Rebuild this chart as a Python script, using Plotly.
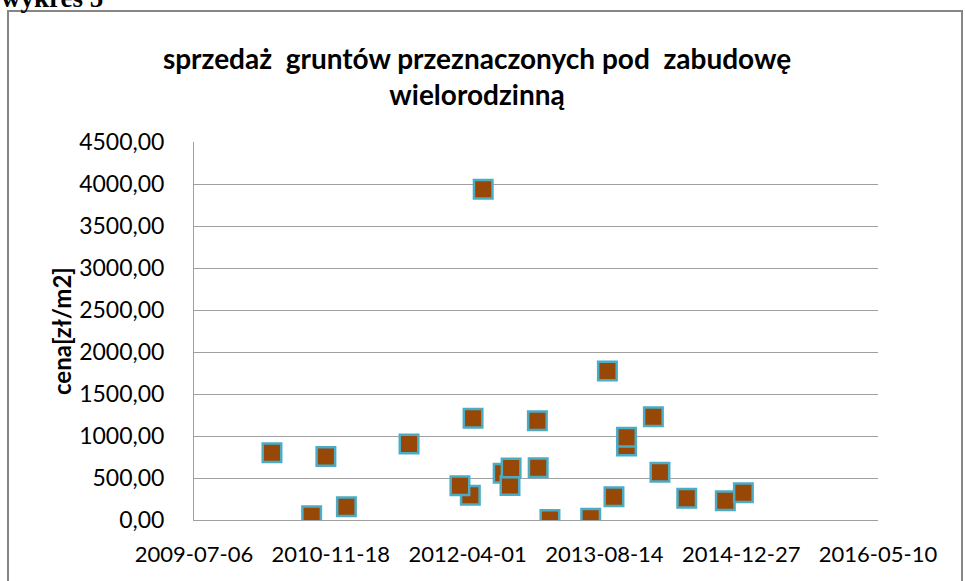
import plotly.graph_objects as go

# ---- data ----
sale_dates = [
    "2010-04-17", "2010-09-09", "2010-10-31", "2011-01-14", "2011-08-31",
    "2012-04-11", "2012-03-04", "2012-04-21", "2012-05-28", "2012-08-09",
    "2012-09-03", "2012-09-07", "2012-12-12", "2012-12-15", "2013-01-27",
    "2013-06-25", "2013-08-25", "2013-09-18", "2013-11-03", "2013-11-03",
    "2014-02-09", "2014-03-05", "2014-06-11", "2014-10-30", "2015-01-04",
]
prices = [
    800, 50, 755, 158, 905,
    294, 408, 1210, 3937, 556,
    410, 620, 1182, 623, 5,
    20, 1774, 278, 880, 984,
    1230, 568, 258, 230, 325,
]
y_tick_values = [0, 500, 1000, 1500, 2000, 2500, 3000, 3500, 4000, 4500]
y_tick_labels = ["0,00", "500,00", "1000,00", "1500,00", "2000,00",
                 "2500,00", "3000,00", "3500,00", "4000,00", "4500,00"]
x_tick_dates = ["2009-07-06", "2010-11-18", "2012-04-01",
                "2013-08-14", "2014-12-27", "2016-05-10"]

title_text = "sprzedaż\u00a0 gruntów przeznaczonych pod\u00a0 zabudowę<br>wielorodzinną"
y_title = "cena[zł/m2]"
corner_text = "wykres 5"

# ---- layout geometry (pixels) ----
W, H = 965, 581
L, R, T, B = 194, 878, 142, 520
PW, PH = R - L, B - T


def px_x(p):
    return (p - L) / PW


def px_y(p):
    return (B - p) / PH


fig = go.Figure(
    go.Scatter(
        x=sale_dates,
        y=prices,
        mode="markers",
        marker=dict(symbol="square", size=18.5, color="#974706",
                    line=dict(color="#4BACC6", width=2.5)),
        hoverinfo="x+y",
    )
)

fig.update_layout(
    width=W, height=H, autosize=False,
    margin=dict(l=L, r=W - R, t=T, b=H - B),
    paper_bgcolor="white", plot_bgcolor="white",
    showlegend=False,
    font=dict(family="Lato, 'Open Sans', sans-serif", color="black"),
    title=dict(text=title_text, x=477 / W, xanchor="center",
               yref="container", y=1 - 69 / H, yanchor="top",
               font=dict(family="Lato", size=28, color="black", weight="bold")),
)

fig.update_xaxes(
    type="date",
    range=["2009-07-06", "2016-05-10 00:00:01"],
    tickmode="array", tickvals=x_tick_dates, ticktext=x_tick_dates,
    showgrid=False, zeroline=False,
    showline=True, linecolor="#A0A0A0", linewidth=1,
    ticks="", ticklabelstandoff=15,
    tickfont=dict(family="Lato", size=22, color="black"),
)
fig.update_yaxes(
    range=[0, 4500],
    tickmode="array", tickvals=y_tick_values, ticktext=y_tick_labels,
    showgrid=True, gridcolor="#A0A0A0", gridwidth=1,
    zeroline=False,
    showline=True, linecolor="#A0A0A0", linewidth=1,
    ticks="", ticklabelstandoff=24,
    tickfont=dict(family="Lato", size=23, color="black"),
)

fig.add_annotation(
    text=y_title, xref="paper", yref="paper",
    x=px_x(61), y=0.5, xanchor="center", yanchor="middle",
    textangle=-90, showarrow=False,
    font=dict(family="Lato", size=24, color="black", weight="bold"),
)
fig.add_annotation(
    text=corner_text, xref="paper", yref="paper",
    x=px_x(-1), y=px_y(-2), xanchor="left", yanchor="middle",
    showarrow=False,
    font=dict(family="Liberation Serif", size=27, color="black", weight="bold"),
)

# outer chart border
fig.add_shape(
    type="rect", xref="paper", yref="paper",
    x0=px_x(8), x1=px_x(962), y0=px_y(600), y1=px_y(11),
    line=dict(color="#868686", width=2), fillcolor="rgba(0,0,0,0)",
    layer="below",
)

fig.write_html(
    "out.html",
    config={"displayModeBar": False},
    post_script="document.body.style.margin='0';document.body.style.overflow='hidden';",
)
